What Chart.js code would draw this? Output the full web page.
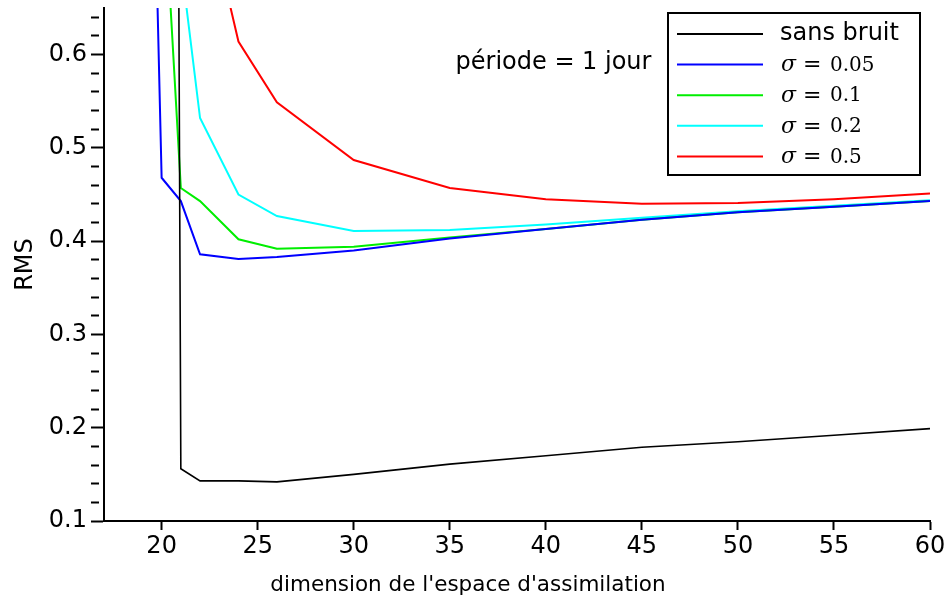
<!DOCTYPE html>
<html>
<head>
<meta charset="utf-8">
<script src="https://cdn.jsdelivr.net/npm/chart.js@4.4.0/dist/chart.umd.min.js"></script>
<style>
html, body { margin: 0; padding: 0; background: #fff; }
</style>
</head>
<body>
<canvas id="rmsChart" width="946" height="600"></canvas>
<script>
// dimension de l'espace d'assimilation (x) and RMS (y) for each case
var xSansBruit = [20, 21, 22, 24, 26, 30, 35, 40, 45, 50, 55, 60];
var rmsSansBruit = [5.0, 0.156, 0.143, 0.143, 0.142, 0.150, 0.161, 0.170, 0.179, 0.185, 0.192, 0.199];

var xSigma005 = [19, 20, 21, 22, 24, 26, 30, 35, 40, 45, 50, 55, 60];
var rmsSigma005 = [1.33, 0.468, 0.443, 0.386, 0.381, 0.383, 0.390, 0.403, 0.413, 0.423, 0.431, 0.437, 0.443];

var xSigma01 = [20, 21, 22, 24, 26, 30, 35, 40, 45, 50, 55, 60];
var rmsSigma01 = [0.82, 0.457, 0.443, 0.402, 0.392, 0.394, 0.404, 0.413, 0.423, 0.431, 0.437, 0.443];

var xSigma02 = [21, 22, 24, 26, 30, 35, 40, 45, 50, 55, 60];
var rmsSigma02 = [0.70, 0.532, 0.450, 0.427, 0.411, 0.412, 0.418, 0.425, 0.432, 0.438, 0.444];

var xSigma05 = [22, 24, 26, 30, 35, 40, 45, 50, 55, 60];
var rmsSigma05 = [0.79, 0.614, 0.549, 0.487, 0.457, 0.445, 0.440, 0.441, 0.445, 0.451];

var seriesLabels = ['sans bruit', 'σ = 0.05', 'σ = 0.1', 'σ = 0.2', 'σ = 0.5'];
var seriesColors = ['#000000', '#0000ff', '#00ee00', '#00ffff', '#ff0000'];

var xTitle = "dimension de l'espace d'assimilation";
var yTitle = 'RMS';
var note = 'période = 1 jour';

function pts(xs, ys) {
  return xs.map(function (x, i) { return {x: x, y: ys[i]}; });
}

function isMajor(v) {
  return Math.abs(v * 10 - Math.round(v * 10)) < 1e-6;
}

var allX = [xSansBruit, xSigma005, xSigma01, xSigma02, xSigma05];
var allY = [rmsSansBruit, rmsSigma005, rmsSigma01, rmsSigma02, rmsSigma05];

var datasets = seriesLabels.map(function (lab, i) {
  return {
    label: lab,
    data: pts(allX[i], allY[i]),
    borderColor: seriesColors[i],
    borderWidth: i === 0 ? 1.6 : 2,
    pointRadius: 0,
    fill: false,
    tension: 0
  };
});

// legend box, note and x title drawn on the canvas
var extras = {
  id: 'extras',
  afterDraw: function (chart) {
    var c = chart.ctx;
    var area = chart.chartArea;
    var xs = chart.scales.x, ys = chart.scales.y;
    c.save();

    // note
    c.fillStyle = '#000';
    c.font = '24px "DejaVu Sans"';
    c.textAlign = 'left';
    c.textBaseline = 'alphabetic';
    c.fillText(note, xs.getPixelForValue(35.3), ys.getPixelForValue(0.585));

    // x title
    c.font = '21.5px "DejaVu Sans"';
    c.textAlign = 'center';
    c.fillText(xTitle, (area.left + area.right) / 2 - 49, 591);

    // legend
    var bx = area.right - 262, by = area.top + 5, bw = 252, bh = 162;
    c.fillStyle = '#fff';
    c.fillRect(bx, by, bw, bh);
    c.strokeStyle = '#000';
    c.lineWidth = 2;
    c.strokeRect(bx, by, bw, bh);
    chart.data.datasets.forEach(function (ds, i) {
      var y = by + 21 + i * 30.6;
      c.strokeStyle = ds.borderColor;
      c.lineWidth = 2;
      c.beginPath();
      c.moveTo(bx + 9, y);
      c.lineTo(bx + 95, y);
      c.stroke();
      c.fillStyle = '#000';
      c.textAlign = 'left';
      c.textBaseline = 'middle';
      var tx = bx + 112;
      if (ds.label.charAt(0) === 'σ') {
        var parts = ds.label.split(' = ');
        c.font = 'italic 22px "DejaVu Serif"';
        c.fillText('σ', tx + 1, y + 1);
        c.font = '22px "DejaVu Serif"';
        c.fillText('=', tx + 23, y + 1);
        c.font = '20px "DejaVu Serif"';
        c.fillText(parts[1], tx + 50, y + 1);
      } else {
        c.font = '24px "DejaVu Sans"';
        c.fillText(ds.label, tx, y);
      }
    });
    c.restore();
  }
};

var rmsChart = new Chart(document.getElementById('rmsChart').getContext('2d'), {
  type: 'line',
  data: { datasets: datasets },
  options: {
    responsive: false,
    animation: false,
    layout: { padding: { left: 0, right: 16, top: 8, bottom: 0 } },
    plugins: { legend: { display: false }, tooltip: { enabled: false } },
    scales: {
      x: {
        type: 'linear',
        min: 17,
        max: 60,
        border: { display: true, color: '#000', width: 2 },
        grid: { drawOnChartArea: false, drawTicks: true, tickLength: 9, tickWidth: 2, tickColor: '#000' },
        ticks: {
          stepSize: 5,
          includeBounds: false,
          maxRotation: 0,
          autoSkip: false,
          padding: 2,
          color: '#000',
          font: { family: 'DejaVu Sans', size: 24 }
        },
        afterFit: function (s) { s.height = 79; s.paddingLeft = 0; s.paddingRight = 0; }
      },
      y: {
        min: 0.1,
        max: 0.65,
        border: { display: true, color: '#000', width: 2 },
        grid: {
          drawOnChartArea: false,
          drawTicks: true,
          tickLength: 13,
          tickWidth: 2,
          tickColor: '#000',
          tickBorderDash: function (ctx) {
            return ctx.tick && isMajor(ctx.tick.value) ? [] : [8, 40];
          }
        },
        ticks: {
          stepSize: 0.02,
          includeBounds: false,
          autoSkip: false,
          padding: 4,
          color: '#000',
          font: { family: 'DejaVu Sans', size: 24 },
          callback: function (v) { return isMajor(v) ? v.toFixed(1) : ''; }
        },
        title: {
          display: true,
          text: yTitle,
          color: '#000',
          font: { family: 'DejaVu Sans', size: 24 },
          padding: { top: 11, bottom: 0 }
        },
        afterFit: function (s) { s.width = 104; s.paddingTop = 0; s.paddingBottom = 0; }
      }
    }
  },
  plugins: [extras]
});
</script>
</body>
</html>
